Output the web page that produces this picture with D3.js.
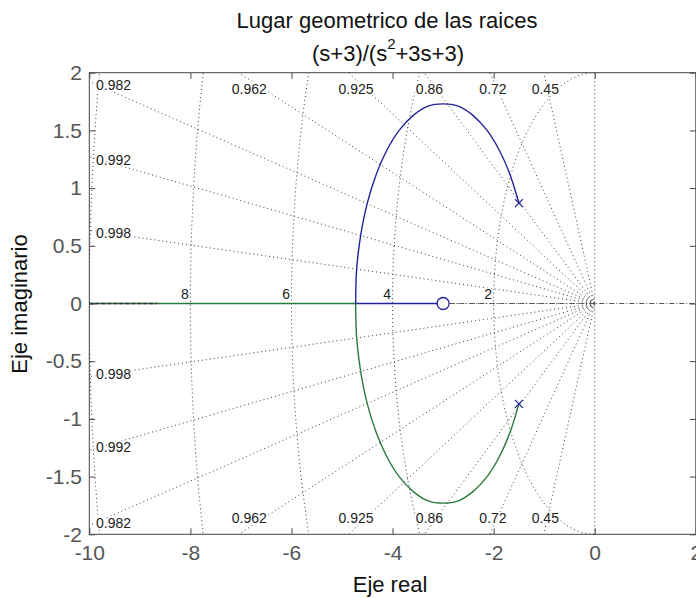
<!DOCTYPE html>
<html>
<head>
<meta charset="utf-8">
<script src="https://cdn.jsdelivr.net/npm/d3@7"></script>
<style>
  html, body { margin: 0; padding: 0; background: #fff; }
  svg { display: block; font-family: "Liberation Sans", Arial, Helvetica, sans-serif; }
</style>
</head>
<body>
<svg id="chart" width="696" height="598"></svg>
<script>
// Root locus of G(s) = (s+3)/(s^2+3s+3) with damping / natural-frequency grid

const xTicks = [-10, -8, -6, -4, -2, 0, 2];
const yTicks = [-2, -1.5, -1, -0.5, 0, 0.5, 1, 1.5, 2];

// grid: constant-damping rays and constant-wn semicircles
const dampingRatios = [0.45, 0.72, 0.86, 0.925, 0.962, 0.982, 0.992, 0.998];
const naturalFreqs = [2, 4, 6, 8, 10];
const naturalFreqLabels = [2, 4, 6, 8];

// open-loop poles and zero
const polesRe = [-1.5, -1.5];
const polesIm = [0.87, -0.87];
const zerosRe = [-3];
const zerosIm = [0];

// branch 1 (upper pole -> circle -> zero at -3)
const branch1Re = [-1.50, -1.67, -1.89, -2.13, -2.41, -2.70, -3.00, -3.30, -3.59, -3.87, -4.11, -4.33, -4.50, -4.63, -4.71, -4.73];
const branch1Im = [0.87, 1.11, 1.33, 1.50, 1.63, 1.71, 1.73, 1.71, 1.63, 1.50, 1.33, 1.11, 0.87, 0.59, 0.30, 0.00];
const branch1AxisRe = [-4.73, -3.00];

// branch 2 (lower pole -> circle -> -infinity)
const branch2Re = [-1.50, -1.67, -1.89, -2.13, -2.41, -2.70, -3.00, -3.30, -3.59, -3.87, -4.11, -4.33, -4.50, -4.63, -4.71, -4.73];
const branch2Im = [-0.87, -1.11, -1.33, -1.50, -1.63, -1.71, -1.73, -1.71, -1.63, -1.50, -1.33, -1.11, -0.87, -0.59, -0.30, 0.00];
const branch2AxisRe = [-4.73, -10.00];

const plotLeft = 89.3, plotRight = 695.8, plotTop = 72.7, plotBottom = 534.3;
const blue = "#23239a", green = "#2a7a3c", gridColor = "#3a3a3a";

const svg = d3.select("#chart");
const x = d3.scaleLinear().domain([-10, 2]).range([plotLeft, plotRight]);
const y = d3.scaleLinear().domain([-2, 2]).range([plotBottom, plotTop]);

svg.append("rect").attr("width", 696).attr("height", 598).attr("fill", "#fff");

svg.append("defs").append("clipPath").attr("id", "plotClip")
  .append("rect")
  .attr("x", plotLeft).attr("y", plotTop)
  .attr("width", plotRight - plotLeft).attr("height", plotBottom - plotTop);

const plot = svg.append("g").attr("clip-path", "url(#plotClip)");
const gridG = plot.append("g")
  .attr("fill", "none").attr("stroke", gridColor)
  .attr("stroke-width", 1).attr("stroke-dasharray", "1,3");

const line = d3.line().x(d => x(d[0])).y(d => y(d[1]));

// damping rays (upper and lower half-planes)
const rayLen = 20;
dampingRatios.forEach(z => {
  const th = Math.acos(z);
  [1, -1].forEach(sgn => {
    gridG.append("path").attr("d", line([[0, 0], [-rayLen * Math.cos(th), sgn * rayLen * Math.sin(th)]]));
  });
});
// zeta = 0 (imaginary axis) and zeta = 1 (negative real axis)
gridG.append("path").attr("d", line([[0, -2], [0, 2]]));
gridG.append("path").attr("d", line([[0, 0], [-10, 0]]));

// natural-frequency semicircles
const angles = d3.range(90, 270.5, 1).map(a => a * Math.PI / 180);
naturalFreqs.forEach(wn => {
  gridG.append("path").attr("d", line(angles.map(a => [wn * Math.cos(a), wn * Math.sin(a)])));
});

// real axis reference line
plot.append("path")
  .attr("d", line([[-10, 0], [2, 0]]))
  .attr("fill", "none").attr("stroke", "#555").attr("stroke-width", 1)
  .attr("stroke-dasharray", "5,2,1,2");

// grid labels
const labelG = svg.append("g")
  .attr("font-size", 14).attr("fill", "#222")
  .attr("stroke", "#fff").attr("stroke-width", 3).attr("paint-order", "stroke");

const yEdge = 1.94;
dampingRatios.forEach(z => {
  const th = Math.acos(z);
  const t = Math.tan(th);
  const xTop = -yEdge / t;
  if (xTop >= -10) {
    const cy = 89;
    [cy, 2 * y(0) - cy].forEach(py => {
      labelG.append("text").attr("x", x(xTop)).attr("y", py).attr("dy", "0.36em")
        .attr("text-anchor", "middle").text(z);
    });
  } else {
    const cy = y(10 * t) + 3;
    [cy, 2 * y(0) - cy].forEach(py => {
      labelG.append("text").attr("x", 96).attr("y", py).attr("dy", "0.36em")
        .attr("text-anchor", "start").text(z);
    });
  }
});
naturalFreqLabels.forEach(wn => {
  labelG.append("text").attr("x", x(-wn) - 1.5).attr("y", y(0) - 5)
    .attr("text-anchor", "end").text(wn);
});

// root locus branches
const locusG = plot.append("g").attr("fill", "none").attr("stroke-width", 1.4);
const curve = d3.line().x(d => x(d[0])).y(d => y(d[1])).curve(d3.curveCatmullRom);
locusG.append("path").attr("stroke", green)
  .attr("d", line(branch2AxisRe.map(r => [r, 0])));
locusG.append("path").attr("stroke", green)
  .attr("d", curve(branch2Re.map((r, i) => [r, branch2Im[i]])));
locusG.append("path").attr("stroke", blue)
  .attr("d", line(branch1AxisRe.map(r => [r, 0])));
locusG.append("path").attr("stroke", blue)
  .attr("d", curve(branch1Re.map((r, i) => [r, branch1Im[i]])));
// far end of the branch heading to -infinity
locusG.append("path").attr("stroke", "#333").attr("stroke-width", 1.3)
  .attr("stroke-dasharray", "4,2")
  .attr("d", line([[-10, 0], [-8.66, 0]]));

// poles (x) and zero (o)
const markG = plot.append("g").attr("fill", "none").attr("stroke", blue).attr("stroke-width", 1.3);
polesRe.forEach((r, i) => {
  const px = x(r), py = y(polesIm[i]), s = 4;
  markG.append("path").attr("d", `M${px - s},${py - s}L${px + s},${py + s}M${px - s},${py + s}L${px + s},${py - s}`);
});
zerosRe.forEach((r, i) => {
  markG.append("circle").attr("cx", x(r)).attr("cy", y(zerosIm[i])).attr("r", 6).attr("fill", "#fff");
});

// axes box with inward ticks
const axisColor = "#444";
const fmt = d => d3.format("")(d).replace("−", "-");
const xAxisB = svg.append("g").attr("transform", `translate(0,${plotBottom})`)
  .call(d3.axisBottom(x).tickValues(xTicks).tickSize(-6).tickPadding(10.5).tickFormat(fmt));
const xAxisT = svg.append("g").attr("transform", `translate(0,${plotTop})`)
  .call(d3.axisTop(x).tickValues(xTicks).tickSize(-6).tickFormat(""));
const yAxisL = svg.append("g").attr("transform", `translate(${plotLeft},0)`)
  .call(d3.axisLeft(y).tickValues(yTicks).tickSize(-6).tickPadding(7.3).tickFormat(fmt));
const yAxisR = svg.append("g").attr("transform", `translate(${plotRight},0)`)
  .call(d3.axisRight(y).tickValues(yTicks).tickSize(-6).tickFormat(""));
[xAxisB, xAxisT, yAxisL, yAxisR].forEach(g => {
  g.select(".domain").remove();
  g.selectAll("line").attr("stroke", axisColor);
  g.selectAll("text").attr("font-size", 21).attr("fill", "#555")
    .attr("font-family", "'Liberation Sans', Arial, sans-serif");
});
svg.append("rect")
  .attr("x", plotLeft).attr("y", plotTop)
  .attr("width", plotRight - plotLeft).attr("height", plotBottom - plotTop)
  .attr("fill", "none").attr("stroke", axisColor).attr("stroke-width", 1);

// titles
const title = svg.append("g").attr("font-size", 22).attr("fill", "#111").attr("text-anchor", "middle");
title.append("text").attr("x", 387).attr("y", 27.5).text("Lugar geometrico de las raices");
const t2 = title.append("text").attr("x", 388).attr("y", 60.5);
t2.append("tspan").text("(s+3)/(s");
t2.append("tspan").attr("font-size", 15).attr("dy", -12).text("2");
t2.append("tspan").attr("dy", 12).text("+3s+3)");

svg.append("text").attr("x", 390).attr("y", 592).attr("font-size", 22).attr("fill", "#111")
  .attr("text-anchor", "middle").text("Eje real");
svg.append("text").attr("transform", "translate(27,304) rotate(-90)")
  .attr("font-size", 22).attr("fill", "#111").attr("text-anchor", "middle").text("Eje imaginario");
</script>
</body>
</html>
